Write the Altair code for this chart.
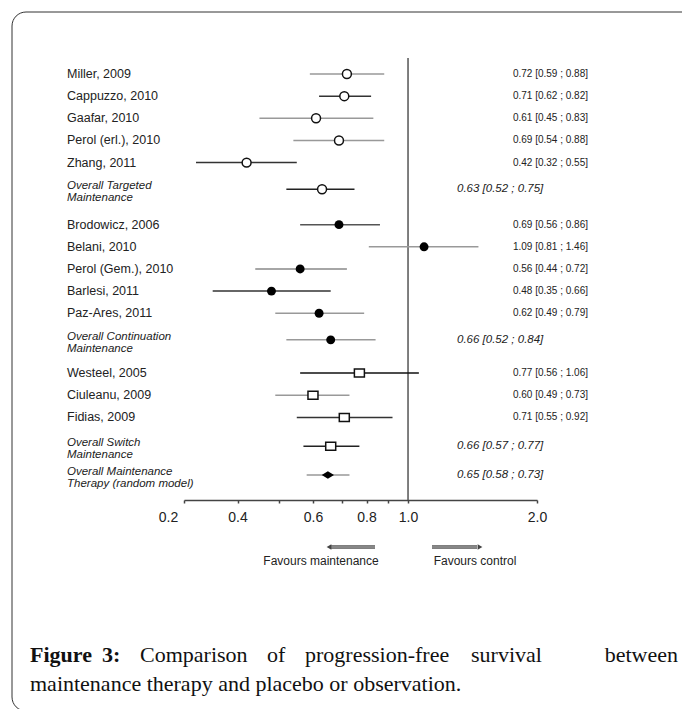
import altair as alt
import pandas as pd

# ---------------- data ----------------
labels = ["Miller, 2009", "Cappuzzo, 2010", "Gaafar, 2010", "Perol (erl.), 2010", "Zhang, 2011",
          "Overall Targeted\nMaintenance",
          "Brodowicz, 2006", "Belani, 2010", "Perol (Gem.), 2010", "Barlesi, 2011", "Paz-Ares, 2011",
          "Overall Continuation\nMaintenance",
          "Westeel, 2005", "Ciuleanu, 2009", "Fidias, 2009",
          "Overall Switch\nMaintenance",
          "Overall Maintenance\nTherapy (random model)"]
hr = [0.72, 0.71, 0.61, 0.69, 0.42, 0.63, 0.69, 1.09, 0.56, 0.48, 0.62, 0.66, 0.77, 0.60, 0.71, 0.66, 0.65]
lo = [0.59, 0.62, 0.45, 0.54, 0.32, 0.52, 0.56, 0.81, 0.44, 0.35, 0.49, 0.52, 0.56, 0.49, 0.55, 0.57, 0.58]
hi = [0.88, 0.82, 0.83, 0.88, 0.55, 0.75, 0.86, 1.46, 0.72, 0.66, 0.79, 0.84, 1.06, 0.73, 0.92, 0.77, 0.73]
row_pos = [1, 2, 3, 4, 5, 6.2, 7.8, 8.8, 9.8, 10.8, 11.8, 13.0, 14.5, 15.5, 16.5, 17.8, 19.1]
markers = ["ocircle"] * 6 + ["dot"] * 6 + ["osquare"] * 4 + ["diamond"]
line_colors = ["#999", "#333", "#999", "#999", "#333", "#222",
               "#555", "#999", "#888", "#333", "#999", "#999",
               "#111", "#999", "#333", "#222", "#999"]

tick_values = [0.3, 0.4, 0.5, 0.6, 0.7, 0.8, 0.9, 1.0, 2.0]
tick_labels = {0.3: "0.2", 0.4: "0.4", 0.6: "0.6", 0.8: "0.8", 1.0: "1.0", 2.0: "2.0"}

caption1_words = ["Figure", "3:", "Comparison", "of", "progression-free", "survival", "between"]
caption1_bold = [True, True, False, False, False, False, False]
caption1_x = [30, 102, 140, 267, 305, 471, 678]
caption2 = "maintenance therapy and placebo or observation."

df = pd.DataFrame({
    "label": labels, "hr": hr, "lo": lo, "hi": hi, "pos": row_pos,
    "marker": markers, "lc": line_colors,
})
df["overall"] = df["label"].str.startswith("Overall")
df["value_text"] = [f"{h:.2f} [{l:.2f} ; {u:.2f}]" for h, l, u in zip(hr, lo, hi)]

# ---------------- scales / axis ----------------
expr = "''"
for v in reversed(tick_values):
    if v in tick_labels:
        expr = f"datum.value == {v} ? '{tick_labels[v]}' : ({expr})"

xscale = alt.Scale(type="log", domain=[0.3, 2.0], range=[184, 537], nice=False)
yscale = alt.Scale(domain=[1, 19.1], range=[74, 475], nice=False, zero=False)
xaxis = alt.Axis(values=tick_values, labelExpr=expr, offset=-209, tickSize=3,
                 domainColor="#444", domainWidth=1.5, tickColor="#444", tickWidth=1.5,
                 labelFont="Liberation Sans", labelFontSize=14, labelColor="#222",
                 labelPadding=7, grid=False, title=None, labelFlush=False, labelOverlap=False,
                 labelOffset={"condition": {"test": "datum.value == 0.3", "value": -16}, "value": 0})

Y = alt.Y("pos:Q", scale=yscale, axis=None)
base = alt.Chart(df)
one = alt.Data(values=[{"a": 1}])

# vertical line of no effect
null_line = alt.Chart(one).mark_rule(color="#555", strokeWidth=1.5).encode(
    x=alt.X(datum=1.0, type="quantitative", scale=xscale, axis=xaxis),
    y=alt.value(58), y2=alt.value(500))

ci = base.mark_rule(strokeWidth=1.5).encode(
    x=alt.X("lo:Q", scale=xscale, axis=xaxis), x2="hi:Q", y=Y,
    color=alt.Color("lc:N", scale=None))

sq_path = "M-1,-0.8H1V0.8H-1Z"
dia_path = "M-1,0L0,-0.62L1,0L0,0.62Z"

p_ocircle = base.transform_filter("datum.marker == 'ocircle'").mark_point(
    shape="circle", filled=True, fill="white", stroke="#111", strokeWidth=1.5, size=80, opacity=1
).encode(x=alt.X("hr:Q", scale=xscale, axis=xaxis), y=Y)
p_dot = base.transform_filter("datum.marker == 'dot'").mark_point(
    shape="circle", filled=True, color="#000", size=80, opacity=1
).encode(x=alt.X("hr:Q", scale=xscale, axis=xaxis), y=Y)
p_sq = base.transform_filter("datum.marker == 'osquare'").mark_point(
    shape=sq_path, filled=True, fill="white", stroke="#111", strokeWidth=1.5, size=100, opacity=1
).encode(x=alt.X("hr:Q", scale=xscale, axis=xaxis), y=Y)
p_dia = base.transform_filter("datum.marker == 'diamond'").mark_point(
    shape=dia_path, filled=True, color="#000", size=150, opacity=1
).encode(x=alt.X("hr:Q", scale=xscale, axis=xaxis), y=Y)

lab_study = base.transform_filter("!datum.overall").mark_text(
    align="left", baseline="middle", font="Liberation Sans", fontSize=12.5, color="#222"
).encode(x=alt.value(67), y=Y, text="label:N")
lab_overall = base.transform_filter("datum.overall").mark_text(
    align="left", baseline="middle", font="Liberation Sans", fontSize=11.5, fontStyle="italic",
    color="#222", lineBreak="\n", lineHeight=12, dy=-3
).encode(x=alt.value(67), y=Y, text="label:N")

val_study = base.transform_filter("!datum.overall").mark_text(
    align="right", baseline="middle", font="Liberation Sans", fontSize=10, color="#222"
).encode(x=alt.value(588), y=Y, text="value_text:N")
val_overall = base.transform_filter("datum.overall").mark_text(
    align="left", baseline="middle", font="Liberation Sans", fontSize=11.5, fontStyle="italic",
    color="#222"
).encode(x=alt.value(457), y=Y, text="value_text:N")

# arrows
arrow_layers = []
for x1, x2, tip, shape in [(375, 331, 329, "triangle-left"), (432, 477, 480, "triangle-right")]:
    arrow_layers.append(alt.Chart(one).mark_rule(color="#555", strokeWidth=3.5).encode(
        x=alt.value(x1), x2=alt.value(x2), y=alt.value(547)))
    arrow_layers.append(alt.Chart(one).mark_rule(color="#999", strokeWidth=1.5).encode(
        x=alt.value(x1), x2=alt.value(x2), y=alt.value(547)))
    arrow_layers.append(alt.Chart(one).mark_point(shape=shape, filled=True, color="#444",
                                                  size=30, opacity=1).encode(
        x=alt.value(tip), y=alt.value(547)))
fav1 = alt.Chart(one).mark_text(text="Favours maintenance", align="center", baseline="middle",
                                font="Liberation Sans", fontSize=12, color="#222").encode(
    x=alt.value(321), y=alt.value(561))
fav2 = alt.Chart(one).mark_text(text="Favours control", align="center", baseline="middle",
                                font="Liberation Sans", fontSize=12, color="#222").encode(
    x=alt.value(475), y=alt.value(561))

# frame
frame = alt.Chart(one).mark_rect(cornerRadius=14, fillOpacity=0, stroke="#333", strokeWidth=1).encode(
    x=alt.value(12), x2=alt.value(700), y=alt.value(12), y2=alt.value(711))

# caption
cap_layers = []
for i, (w, b, xx) in enumerate(zip(caption1_words, caption1_bold, caption1_x)):
    cap_layers.append(alt.Chart(one).mark_text(
        text=w, align="right" if i == len(caption1_words) - 1 else "left", baseline="middle",
        font="Liberation Serif", fontSize=22, fontWeight="bold" if b else "normal", color="#111"
    ).encode(x=alt.value(xx), y=alt.value(655)))
cap_layers.append(alt.Chart(one).mark_text(
    text=caption2, align="left", baseline="middle", font="Liberation Serif", fontSize=22, color="#111"
).encode(x=alt.value(30), y=alt.value(684)))

chart = alt.layer(
    frame, null_line, ci, p_ocircle, p_dot, p_sq, p_dia,
    lab_study, lab_overall, val_study, val_overall,
    *arrow_layers, fav1, fav2, *cap_layers
).properties(
    width=682, height=709, autosize=alt.AutoSizeParams(type="none"), padding=0,
    background="white"
).configure_view(stroke=None)

chart.save("out.html", embed_options={"renderer": "svg", "actions": False})
